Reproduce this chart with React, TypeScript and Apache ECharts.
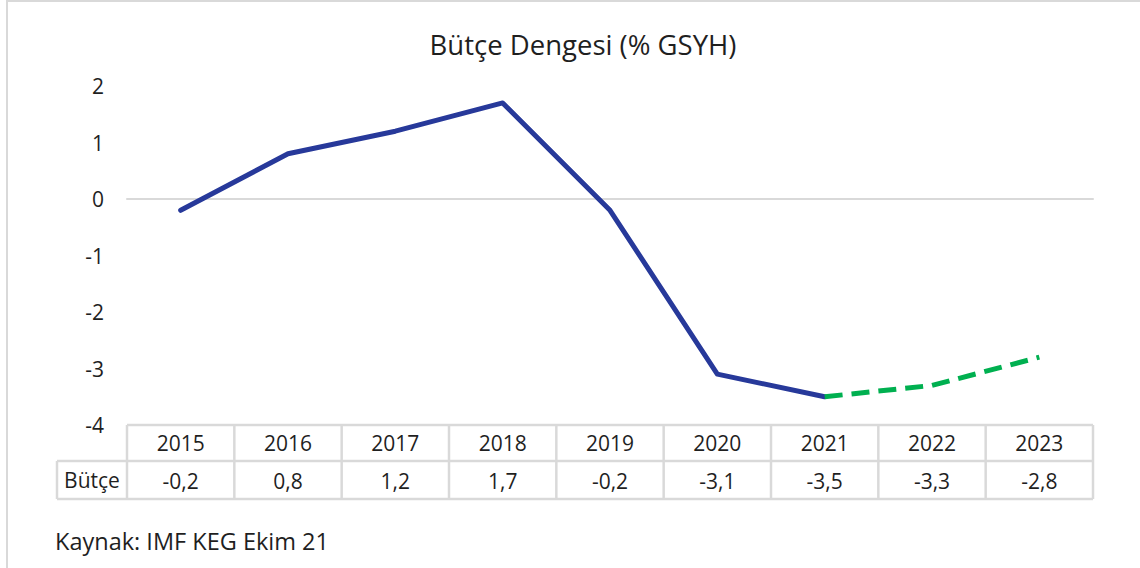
import React, { useEffect, useRef } from "react";
import * as echarts from "echarts";

const years = ["2015", "2016", "2017", "2018", "2019", "2020", "2021", "2022", "2023"];
const budget = [-0.2, 0.8, 1.2, 1.7, -0.2, -3.1, -3.5, -3.3, -2.8];
const forecastStartYear = "2021";
const rowLabel = "Bütçe";
const titleText = "Bütçe Dengesi (% GSYH)";
const sourceText = "Kaynak: IMF KEG Ekim 21";
const yMin = -4;
const yMax = 2;
const yInterval = 1;

const FONT = "'Open Sans', sans-serif";
const TEXT = "#1f1f1f";
const GRID = "#D9D9D9";

export default function App() {
  const ref = useRef<HTMLDivElement>(null);
  useEffect(() => {
    if (!ref.current) return;
    const chart = echarts.init(ref.current, undefined, { renderer: "svg" });
    const split = years.indexOf(forecastStartYear);
    const actual = budget.map((v, i) => (i <= split ? v : null));
    const forecast = budget.map((v, i) => (i >= split ? v : null));

    const gl = 127, gr = 1093, gt = 86, gb = 425;
    const colW = (gr - gl) / years.length;
    const r1 = 425, r2 = 461, r3 = 499, lx = 57;

    const g: any[] = [];
    g.push({ type: "rect", shape: { x: 7, y: 1, width: 1300, height: 700 }, style: { fill: "none", stroke: GRID, lineWidth: 2 }, silent: true });
    const ls = { stroke: GRID, lineWidth: 2.5 };
    g.push({ type: "line", shape: { x1: gl, y1: r1, x2: gr, y2: r1 }, style: ls });
    g.push({ type: "line", shape: { x1: lx, y1: r2, x2: gr, y2: r2 }, style: ls });
    g.push({ type: "line", shape: { x1: lx, y1: r3, x2: gr, y2: r3 }, style: ls });
    g.push({ type: "line", shape: { x1: lx, y1: r2, x2: lx, y2: r3 }, style: ls });
    for (let k = 0; k <= years.length; k++) {
      const x = gl + k * colW;
      g.push({ type: "line", shape: { x1: x, y1: r1, x2: x, y2: r3 }, style: ls });
    }
    years.forEach((y, i) => {
      const cx = gl + (i + 0.5) * colW;
      g.push({ type: "text", x: cx, y: (r1 + r2) / 2, style: { text: y, font: `21px ${FONT}`, fill: TEXT, align: "center", verticalAlign: "middle" } });
      g.push({ type: "text", x: cx, y: (r2 + r3) / 2 + 1, style: { text: budget[i].toFixed(1).replace(".", ","), font: `21px ${FONT}`, fill: TEXT, align: "center", verticalAlign: "middle" } });
    });
    g.push({ type: "text", x: (lx + gl) / 2, y: (r2 + r3) / 2, style: { text: rowLabel, font: `21px ${FONT}`, fill: TEXT, align: "center", verticalAlign: "middle" } });
    g.push({ type: "text", x: 55, y: 541, style: { text: sourceText, font: `23.5px ${FONT}`, fill: TEXT, align: "left", verticalAlign: "middle" } });

    chart.setOption({
      animation: false,
      title: {
        text: titleText,
        left: 578,
        textAlign: "center",
        top: 25,
        textStyle: { fontFamily: FONT, fontSize: 27.5, fontWeight: "normal", color: TEXT },
      },
      grid: { left: gl, right: 1140 - gr, top: gt, bottom: 568 - gb },
      xAxis: {
        type: "category",
        data: years,
        boundaryGap: true,
        axisLine: { show: true, onZero: true, lineStyle: { color: GRID, width: 2 } },
        axisTick: { show: false },
        axisLabel: { show: false },
      },
      yAxis: {
        type: "value",
        min: yMin,
        max: yMax,
        interval: yInterval,
        axisLine: { show: false },
        axisTick: { show: false },
        splitLine: { show: false },
        axisLabel: { margin: 23, fontFamily: FONT, fontSize: 21, color: TEXT },
      },
      series: [
        {
          type: "line",
          data: actual,
          symbol: "none",
          lineStyle: { color: "#27399A", width: 5, cap: "round", join: "round" },
        },
        {
          type: "line",
          data: forecast,
          symbol: "none",
          lineStyle: { color: "#00B050", width: 5, type: [18, 9], cap: "butt" },
        },
      ],
      graphic: g,
    });
    return () => chart.dispose();
  }, []);
  return <div ref={ref} style={{ position: "fixed", left: 0, top: 0, width: 1140, height: 568, background: "#fff" }} />;
}
